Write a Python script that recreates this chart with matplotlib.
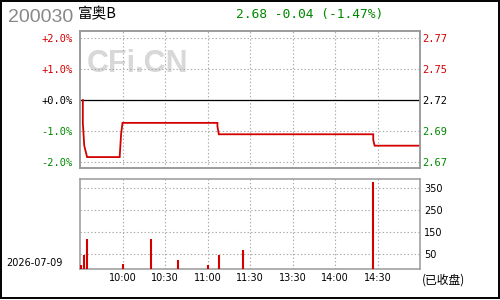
import matplotlib
matplotlib.use('Agg')
import matplotlib.pyplot as plt
from matplotlib.patches import Rectangle

# ---- data ----
code = "200030"
name = "富奥B"
prev_close = 2.72
last_price = 2.68
change = -0.04
change_pct = -1.47
date_label = "2026-07-09"
status_label = "(已收盘)"
watermark = "CFi.CN"

# minutes since 9:30 (trading minutes, lunch break removed)
price_minutes = [2, 2, 3, 4, 5, 28, 29, 30, 97, 97, 98, 207, 207, 208, 239]
price_values = [2.72, 2.70, 2.68, 2.675, 2.67, 2.67, 2.69, 2.70, 2.70, 2.697, 2.69,
                2.69, 2.685, 2.68, 2.68]

vol_minutes = [1, 3, 5, 30, 50, 69, 90, 98, 115, 207]
vol_values = [1, 46, 118, 5, 118, 23, 1, 46, 68, 377]

pct_ticks = [2.0, 1.0, 0.0, -1.0, -2.0]
vol_ticks = [50, 150, 250, 350]
time_ticks = [30, 60, 90, 120, 150, 180, 210]
time_labels = ["10:00", "10:30", "11:00", "11:30", "13:30", "14:00", "14:30"]

RED = '#d40000'
GREEN = '#008800'
GRID = '#a8a8a8'
SPINE = '#999999'

fig = plt.figure(figsize=(5, 3), dpi=100)
fig.patch.set_facecolor('white')

ax1 = fig.add_axes([0.16, 0.44, 0.68, 0.4567])
ax2 = fig.add_axes([0.16, 0.10333, 0.68, 0.30])

def tick_color(v):
    return RED if v > 0 else ('black' if v == 0 else GREEN)

# ---- price panel ----
pct_values = [(p / prev_close - 1) * 100 for p in price_values]
ax1.plot(price_minutes, pct_values, color=RED, lw=1.3, zorder=3, solid_joinstyle='miter')
ax1.axhline(0, color='black', lw=0.9, zorder=2)
ax1.set_xlim(0, 240)
ax1.set_ylim(-2.19, 2.226)
ax1.set_xticks(time_ticks)
ax1.set_xticklabels([])
ax1.set_yticks(pct_ticks)
ax1.set_yticklabels([f"{v:+.1f}%" for v in pct_ticks], family='DejaVu Sans Mono', fontsize=7.5)
for lbl, v in zip(ax1.get_yticklabels(), pct_ticks):
    lbl.set_color(tick_color(v))
ax1.tick_params(length=0, pad=5.5)
ax1.grid(True, linestyle=(0, (1.2, 2.0)), color=GRID, lw=0.8, zorder=1)
ax1.text(0.17, 0.76, watermark, transform=ax1.transAxes, fontsize=22, fontweight='bold',
         family='Liberation Sans', color='#d8d8d8', ha='center', va='center', zorder=0)

ax1r = ax1.twinx()
ax1r.set_ylim(ax1.get_ylim())
ax1r.set_yticks(pct_ticks)
ax1r.set_yticklabels([f"{prev_close * (1 + v / 100):.2f}" for v in pct_ticks],
                     family='DejaVu Sans Mono', fontsize=7.5)
for lbl, v in zip(ax1r.get_yticklabels(), pct_ticks):
    lbl.set_color(tick_color(v))
ax1r.tick_params(length=0, pad=1.5)

for a in (ax1, ax1r, ax2):
    for s in a.spines.values():
        s.set_color(SPINE)
        s.set_linewidth(1.1)

# ---- volume panel ----
ax2.set_xlim(0, 240)
ax2.set_ylim(-18.2, 390.9)
base = ax2.get_ylim()[0]
ax2.vlines(vol_minutes, base, vol_values, color=RED, lw=1.5, zorder=3)
ax2.set_xticks(time_ticks)
ax2.set_xticklabels(time_labels, fontsize=7, family='DejaVu Sans')
ax2.set_yticks(vol_ticks)
ax2.yaxis.tick_right()
ax2.set_yticklabels([str(v) for v in vol_ticks], fontsize=7, family='DejaVu Sans')
ax2.tick_params(axis='y', length=0, pad=2.8)
ax2.tick_params(axis='x', length=0, pad=3)
ax2.grid(True, linestyle=(0, (1.2, 2.0)), color=GRID, lw=0.8, zorder=1)

# ---- header texts ----
fig.text(8 / 500, 1 - 17 / 300, code, fontsize=14, family='Liberation Sans',
         color='#888888', ha='left', va='center')
fig.text(78 / 500, 1 - 14.5 / 300, name, fontsize=10.5,
         family=['Noto Sans CJK SC', 'DejaVu Sans'], color='black', ha='left', va='center')
fig.text(236 / 500, 1 - 14.5 / 300, f"{last_price:.2f} {change:+.2f} ({change_pct:+.2f}%)",
         fontsize=9.3, family='DejaVu Sans Mono', color=GREEN, ha='left', va='center')

fig.text(6.5 / 500, 1 - 263 / 300, date_label, fontsize=7, family='DejaVu Sans',
         color='black', ha='left', va='center')
fig.text(422 / 500, 1 - 280 / 300, status_label, fontsize=8.5,
         family=['Noto Sans CJK SC', 'DejaVu Sans'], color='black', ha='left', va='center')

# outer frame
fig.add_artist(Rectangle((0.8 / 500, 2 / 300), 498 / 500, 297.3 / 300,
                         transform=fig.transFigure, fill=False, edgecolor='black', lw=1.4))

fig.savefig('out.png', dpi=100, facecolor='white')
